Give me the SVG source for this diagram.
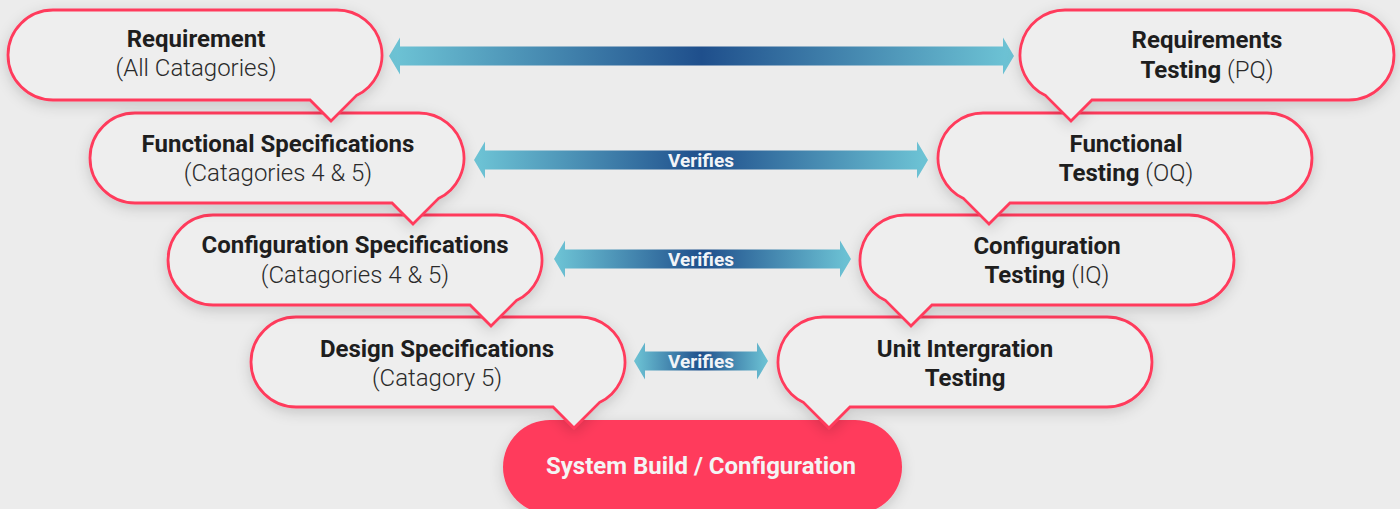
<svg xmlns="http://www.w3.org/2000/svg" xmlns:xlink="http://www.w3.org/1999/xlink" width="1400" height="509" viewBox="0 0 1400 509">
  <style>
    .bubble { fill: #EEEEEE; stroke: #FF3B5C; stroke-width: 2.8; stroke-linejoin: miter; }
    .t { font-family: Roboto, "Liberation Sans", sans-serif; font-size: 24px; text-anchor: middle; fill: #1E1E1E; }
    .b { font-weight: 700; }
    .l { font-weight: 300; fill: #2A2A2A; }
    .arrow { fill: url(#arrowGrad); }
    .verb { font-family: Roboto, "Liberation Sans", sans-serif; font-size: 19px; font-weight: 700; fill: #F2F4F8; text-anchor: middle; }
  </style>
  <defs>
    <linearGradient id="arrowGrad" x1="0" y1="0" x2="1" y2="0">
      <stop offset="0" stop-color="#6EC5D6"/>
      <stop offset="0.5" stop-color="#1F4F8C"/>
      <stop offset="1" stop-color="#6EC5D6"/>
    </linearGradient>
    <filter id="shadow" x="-10%" y="-20%" width="120%" height="150%">
      <feDropShadow dx="0" dy="4" stdDeviation="7" flood-color="#000" flood-opacity="0.16"/>
    </filter>
    <!-- speech bubble, tail at bottom-right -->
    <path id="bubbleL" class="bubble" d="M45,0 H329 A45,45 0 0 1 348.39,85.61 L323,111 L302,90 H45 A45,45 0 0 1 45,0 Z"/>
    <!-- speech bubble, tail at bottom-left -->
    <path id="bubbleR" class="bubble" d="M45,0 H329 A45,45 0 0 1 329,90 H72 L51,111 L25.61,85.61 A45,45 0 0 1 45,0 Z"/>
  </defs>

  <rect width="1400" height="509" fill="#ECECEC"/>

  <!-- connectors -->
  <g id="connectors">
    <path class="arrow" d="M389,56 L400,37.5 V46.5 H1003 V37.5 L1014,56 L1003,74.5 V65.5 H400 V74.5 Z"/>
    <path class="arrow" d="M474,160 L485,141.5 V150.5 H917 V141.5 L928,160 L917,178.5 V169.5 H485 V178.5 Z"/>
    <text class="verb" x="701" y="167">Verifies</text>
    <path class="arrow" d="M554,259 L565,240.5 V249.5 H840 V240.5 L851,259 L840,277.5 V268.5 H565 V277.5 Z"/>
    <text class="verb" x="701" y="266">Verifies</text>
    <path class="arrow" d="M634,361 L645,342.5 V351.5 H757 V342.5 L768,361 L757,379.5 V370.5 H645 V379.5 Z"/>
    <text class="verb" x="701" y="368">Verifies</text>
  </g>

  <!-- bottom of the V -->
  <g id="system-build">
    <rect x="503" y="420" width="399" height="94" rx="47" fill="#FF3B5C" filter="url(#shadow)"/>
    <text class="t b" x="701" y="474" style="fill:#F4F4F4">System Build / Configuration</text>
  </g>

  <g id="design-spec" transform="translate(251,317)">
    <use xlink:href="#bubbleL" filter="url(#shadow)"/>
    <text class="t b" x="186" y="40">Design Specifications</text>
    <text class="t l" x="186" y="69">(Catagory 5)</text>
  </g>
  <g id="unit-testing" transform="translate(778,317)">
    <use xlink:href="#bubbleR" filter="url(#shadow)"/>
    <text class="t b" x="187" y="40">Unit Intergration</text>
    <text class="t b" x="187" y="69">Testing</text>
  </g>

  <g id="config-spec" transform="translate(168,215)">
    <use xlink:href="#bubbleL" filter="url(#shadow)"/>
    <text class="t b" x="187" y="38">Configuration Specifications</text>
    <text class="t l" x="187" y="68">(Catagories 4 &amp; 5)</text>
  </g>
  <g id="config-testing" transform="translate(860,215)">
    <use xlink:href="#bubbleR" filter="url(#shadow)"/>
    <text class="t b" x="187" y="39">Configuration</text>
    <text class="t" x="187" y="68"><tspan class="b">Testing</tspan> <tspan class="l">(IQ)</tspan></text>
  </g>

  <g id="functional-spec" transform="translate(90,113)">
    <use xlink:href="#bubbleL" filter="url(#shadow)"/>
    <text class="t b" x="188" y="39">Functional Specifications</text>
    <text class="t l" x="188" y="68">(Catagories 4 &amp; 5)</text>
  </g>
  <g id="functional-testing" transform="translate(938,113)">
    <use xlink:href="#bubbleR" filter="url(#shadow)"/>
    <text class="t b" x="188" y="39">Functional</text>
    <text class="t" x="188" y="68"><tspan class="b">Testing</tspan> <tspan class="l">(OQ)</tspan></text>
  </g>

  <g id="requirement" transform="translate(8,10)">
    <use xlink:href="#bubbleL" filter="url(#shadow)"/>
    <text class="t b" x="188" y="37">Requirement</text>
    <text class="t l" x="188" y="66">(All Catagories)</text>
  </g>
  <g id="requirements-testing" transform="translate(1020,10)">
    <use xlink:href="#bubbleR" filter="url(#shadow)"/>
    <text class="t b" x="187" y="38">Requirements</text>
    <text class="t" x="187" y="68"><tspan class="b">Testing</tspan> <tspan class="l">(PQ)</tspan></text>
  </g>
</svg>
